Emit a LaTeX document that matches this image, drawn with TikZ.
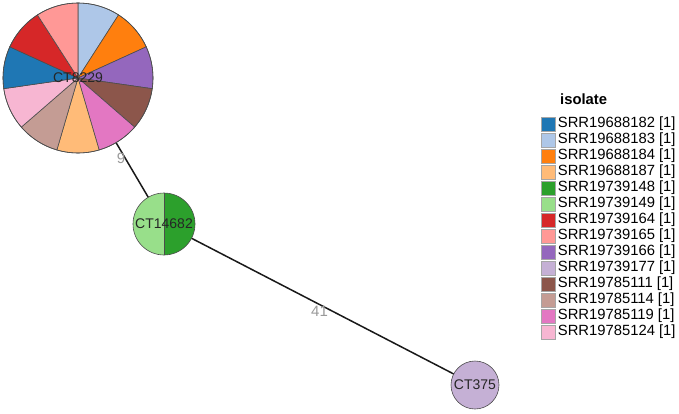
\documentclass[tikz,border=0pt]{standalone}
\usepackage{fontspec}
\setmainfont{Liberation Sans}
\usetikzlibrary{positioning,backgrounds}

% tab20 palette
\definecolor{tabBlue}{HTML}{1F77B4}
\definecolor{tabBlueL}{HTML}{AEC7E8}
\definecolor{tabOrange}{HTML}{FF7F0E}
\definecolor{tabOrangeL}{HTML}{FFBB78}
\definecolor{tabGreen}{HTML}{2CA02C}
\definecolor{tabGreenL}{HTML}{98DF8A}
\definecolor{tabRed}{HTML}{D62728}
\definecolor{tabRedL}{HTML}{FF9896}
\definecolor{tabPurple}{HTML}{9467BD}
\definecolor{tabPurpleL}{HTML}{C5B0D5}
\definecolor{tabBrown}{HTML}{8C564B}
\definecolor{tabBrownL}{HTML}{C49C94}
\definecolor{tabPink}{HTML}{E377C2}
\definecolor{tabPinkL}{HTML}{F7B6D2}

\tikzset{
  wedge/.style={draw=black!70, line width=0.6pt},
  sttype/.style={circle, inner sep=0pt, draw=black!70, line width=0.6pt,
    text=black!85, font=\fontsize{14}{16}\selectfont},
  edge/.style={line width=1.5pt, black!90},
  elabel/.style={text=black!40, font=\fontsize{15}{17}\selectfont, yshift=-7pt},
  swatch/.style={minimum size=14pt, inner sep=0pt, draw=black!35, line width=0.4pt},
  keytext/.style={inner sep=1.5pt, font=\fontsize{14.8}{16}\selectfont}
}

\begin{document}
\begin{tikzpicture}[x=1pt,y=1pt]
\useasboundingbox (0,0) rectangle (679,-413);

% pie of CT8229
\foreach \col [count=\i from 0] in {tabBlueL,tabOrange,tabPurple,tabBrown,tabPink,
    tabOrangeL,tabBrownL,tabPinkL,tabBlue,tabRed,tabRedL} {
  \pgfmathsetmacro\a{90-\i*360/11}
  \pgfmathsetmacro\b{\a-360/11}
  \filldraw[wedge, fill=\col] (78,-78) -- ++(\a:75pt)
    arc[start angle=\a, end angle=\b, radius=75pt] -- cycle;
}

% halves of CT14682
\fill[tabGreenL] (164,-224) -- ++(90:31pt) arc[start angle=90, end angle=270, radius=31pt] -- cycle;
\fill[tabGreen] (164,-224) -- ++(-90:31pt) arc[start angle=-90, end angle=90, radius=31pt] -- cycle;
\draw[wedge] (164,-193) -- (164,-255);

% sequence types
\node[sttype, minimum size=150pt] (CT8229) at (78,-78) {CT8229};
\node[sttype, minimum size=62pt] (CT14682) at (164,-224) {CT14682};
\node[sttype, minimum size=48pt, fill=tabPurpleL] (CT375) at (475,-385) {CT375};

% links
\begin{scope}[on background layer]
\draw[edge] (CT8229.center) -- node[elabel] {9} (CT14682.center);
\draw[edge] (CT14682.center) -- node[elabel] {41} (CT375.center);
\end{scope}

% legend
\node[anchor=west, inner sep=0pt, font=\fontsize{14.8}{16}\selectfont\bfseries] (keyhead) at (560,-99) {isolate};
\foreach \col/\lab [count=\i] in {tabBlue/SRR19688182, tabBlueL/SRR19688183,
    tabOrange/SRR19688184, tabOrangeL/SRR19688187, tabGreen/SRR19739148,
    tabGreenL/SRR19739149, tabRed/SRR19739164, tabRedL/SRR19739165,
    tabPurple/SRR19739166, tabPurpleL/SRR19739177, tabBrown/SRR19785111,
    tabBrownL/SRR19785114, tabPink/SRR19785119, tabPinkL/SRR19785124} {
  \node[swatch, fill=\col] (sw\i) at (548,{-124-16*(\i-1)}) {};
  \node[keytext, right=1pt of sw\i] (key\i) {\lab\ [1]};
}

\end{tikzpicture}
\end{document}
